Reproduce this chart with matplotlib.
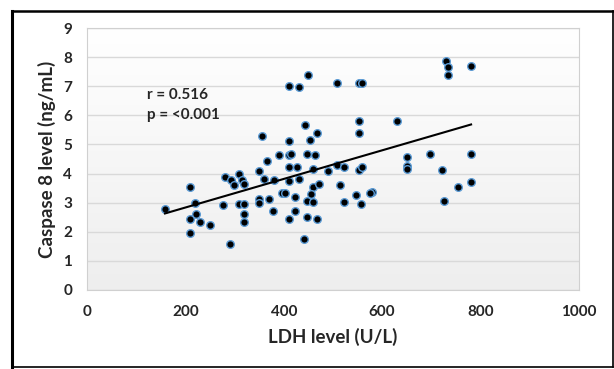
import numpy as np
import matplotlib
matplotlib.use("Agg")
import matplotlib.pyplot as plt
from matplotlib.colors import LinearSegmentedColormap
from matplotlib.lines import Line2D

plt.rcParams["font.family"] = ["Lato", "DejaVu Sans"]
plt.rcParams["font.weight"] = "bold"

# ── data ──────────────────────────────────────────────────────────────────────
ldh = [158, 208, 219, 208, 222, 230, 208, 250, 276, 280,
       293, 298, 309, 315, 319, 291, 309, 319, 318, 318,
       349, 356, 359, 366, 349, 349, 370, 378, 380, 390,
       397, 403, 411, 411, 415, 411, 427, 411, 431, 422,
       422, 411, 411, 431, 449, 443, 468, 453, 448, 464,
       459, 459, 471, 456, 448, 460, 448, 467, 441, 489,
       509, 509, 522, 514, 522, 552, 558, 552, 552, 552,
       560, 546, 557, 580, 575, 630, 651, 651, 651, 698,
       722, 725, 755, 781, 781, 729, 735, 735, 781]
caspase8 = [2.78, 3.53, 2.98, 2.43, 2.61, 2.34, 1.97, 2.22, 2.91, 3.87,
            3.78, 3.60, 3.99, 3.78, 3.64, 1.58, 2.96, 2.96, 2.61, 2.34,
            4.08, 5.29, 3.82, 4.42, 3.14, 3.00, 3.11, 2.70, 3.78, 4.63,
            3.34, 3.32, 5.11, 4.63, 4.67, 4.24, 4.24, 3.76, 3.82, 3.21,
            2.70, 2.43, 7.01, 6.96, 7.40, 5.66, 5.41, 5.15, 4.67, 4.63,
            4.17, 3.55, 3.64, 3.30, 3.07, 3.02, 2.52, 2.43, 1.74, 4.10,
            7.10, 4.31, 4.21, 3.60, 3.04, 7.10, 7.10, 5.79, 5.41, 4.12,
            4.21, 3.25, 2.96, 3.37, 3.33, 5.79, 4.58, 4.26, 4.15, 4.67,
            4.12, 3.07, 3.55, 3.71, 4.67, 7.88, 7.65, 7.37, 7.70]
x_ticks = [0, 200, 400, 600, 800, 1000]
y_ticks = list(range(0, 10))
r_text = "r = 0.516"
p_text = "p = <0.001"

x = np.array(ldh, dtype=float)
y = np.array(caspase8)

fig = plt.figure(figsize=(6.14, 3.69), dpi=100)
fig.patch.set_facecolor("white")
ax = fig.add_axes([0.1422, 0.2141, 0.8003, 0.7100])

# plot area gradient, white at top to light grey at bottom
grad = LinearSegmentedColormap.from_list("bg", ["#ffffff", "#eeeeee"])
ax.imshow(np.linspace(0, 1, 256).reshape(-1, 1), cmap=grad, aspect="auto",
          extent=[0, 1, 0, 1], transform=ax.transAxes, zorder=0)

ax.set_xlim(0, 1000)
ax.set_ylim(0, 9)
ax.set_xticks(x_ticks)
ax.set_yticks(y_ticks)
ax.grid(axis="y", color="#d9d9d9", lw=1.0, zorder=1)
ax.set_axisbelow(True)
ax.tick_params(length=0, labelsize=11, colors="#262626")
ax.tick_params(axis="x", pad=11)
ax.tick_params(axis="y", pad=11)
for sp in ax.spines.values():
    sp.set_color("#d0d0d0")
    sp.set_linewidth(0.8)

ax.scatter(x, y, s=30, c="black", edgecolors="#5b9bd5", linewidths=1.0, zorder=3)

# linear trend line
k, b = np.polyfit(x, y, 1)
xs = np.array([x.min(), x.max()])
ax.plot(xs, k * xs + b, color="black", lw=1.5, zorder=4)

ax.text(121, 6.71, r_text, ha="left", va="center", fontsize=11,
        fontweight="bold", color="#262626", zorder=5)
ax.text(121, 6.0, p_text, ha="left", va="center", fontsize=11,
        fontweight="bold", color="#262626", zorder=5)

ax.set_xlabel("LDH level (U/L)", fontsize=13.5, fontweight="bold",
              color="#262626", labelpad=6)
ax.set_ylabel("Caspase 8 level (ng/mL)", fontsize=13.5, fontweight="bold",
              color="#262626", labelpad=5)

# outer frame around the whole chart
W, H = 614, 369
def fline(x0, y0, x1, y1, lw):
    fig.add_artist(Line2D([x0 / W, x1 / W], [1 - y0 / H, 1 - y1 / H],
                          color="black", lw=lw, transform=fig.transFigure,
                          solid_capstyle="projecting"))
fline(12, 11, 612.5, 11, 1.8)
fline(12, 11, 12, 366.5, 2.2)
fline(12, 366.5, 612.5, 366.5, 1.2)
fline(612.5, 11, 612.5, 366.5, 1.2)

fig.savefig("out.png", dpi=100)
